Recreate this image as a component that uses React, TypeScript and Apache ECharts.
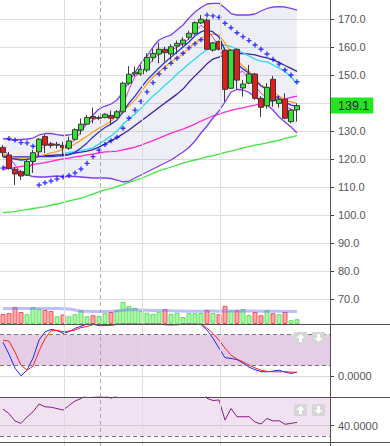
import React, { useEffect, useRef } from "react";
import * as echarts from "echarts";

const categories = Array.from({ length: 55 }, (_, i) => String(i + 1));

const opens = [124.2, 121.5, 116.4, 115.5, 114.3, 119.2, 122.6, 128.1, 125.4, 125.0, 124.9, 123.9, 127.1, 130.4, 132.5, 135.2, 134.6, 134.9, 135.6, 134.9, 136.9, 147.1, 150.4, 150.4, 151.8, 156.3, 157.5, 159.2, 157.5, 160.4, 161.1, 163.5, 164.9, 168.6, 169.6, 158.9, 162.0, 158.9, 145.3, 159.2, 145.4, 147.1, 150.4, 141.7, 139.0, 148.5, 139.9, 141.4, 133.4, 137.6];
const closes = [122.3, 116.7, 114.7, 114.0, 119.2, 122.3, 127.1, 125.0, 124.9, 125.3, 124.1, 126.5, 130.5, 132.5, 134.9, 134.6, 134.8, 136.0, 134.6, 136.9, 147.1, 150.3, 151.0, 152.1, 156.3, 157.7, 159.2, 158.0, 160.1, 161.3, 162.5, 164.9, 168.7, 169.9, 159.2, 161.5, 159.2, 144.9, 158.9, 148.2, 146.8, 150.4, 141.7, 138.5, 145.6, 140.9, 141.4, 134.6, 137.5, 139.1];
const highs = [125.0, 122.6, 117.2, 116.1, 119.7, 123.3, 127.5, 128.8, 126.1, 126.2, 126.2, 128.0, 131.0, 134.5, 135.8, 138.4, 135.5, 136.4, 137.3, 137.5, 147.6, 153.2, 153.0, 153.6, 157.8, 159.5, 161.5, 160.1, 161.0, 162.3, 163.5, 165.8, 169.2, 171.4, 170.2, 161.8, 162.3, 159.5, 159.3, 159.5, 148.2, 153.6, 150.8, 142.5, 147.1, 149.7, 142.6, 143.5, 137.8, 139.9];
const lows = [120.8, 116.3, 110.8, 112.6, 114.0, 115.1, 120.8, 122.2, 124.0, 123.8, 120.9, 123.3, 126.6, 128.8, 132.3, 132.8, 133.9, 134.6, 132.2, 134.5, 136.4, 146.5, 149.5, 149.8, 151.0, 154.8, 154.2, 154.8, 155.5, 157.5, 160.2, 162.5, 164.3, 168.2, 159.0, 158.4, 158.8, 140.5, 145.0, 144.9, 142.3, 146.8, 141.1, 135.1, 138.0, 138.7, 138.4, 134.3, 132.8, 133.4];

const volumes = [10, 10.8, 17, 12, 9.8, 16.8, 14.8, 14, 13, 7.7, 9.5, 7.7, 9.8, 13.8, 7.7, 8.8, 8, 10.8, 12, 13.8, 22, 18, 16, 13, 11.2, 10.2, 12.2, 14.8, 10.2, 11.2, 7, 10.8, 10.8, 11, 14, 11, 9.8, 18.2, 13.4, 13.7, 14.8, 9, 12, 8.8, 13.8, 10.8, 9.8, 12, 3.8, 4.8];
const volumeMA = [15.5, 15.5, 15.5, 15.5, 15.6, 15.6, 15.5, 15.5, 15.5, 15.4, 15.2, 15.0, 14.0, 12.8, 12.7, 12.6, 12.5, 12.6, 12.8, 13.2, 13.8, 14.2, 14.2, 14.0, 13.8, 13.6, 13.4, 13.4, 13.2, 13.0, 12.9, 12.8, 12.8, 12.8, 12.9, 12.9, 12.8, 13.0, 13.1, 13.1, 13.2, 13.0, 13.0, 12.8, 12.8, 12.8, 12.7, 12.6, 12.4, 12.4];

const bbUpper = [127.37, 127.01, 126.83, 127.01, 127.19, 127.54, 128.62, 129.15, 129.15, 128.79, 128.44, 128.62, 129.33, 130.76, 133.25, 135.75, 137.89, 138.96, 139.68, 141.1, 143.96, 147.88, 150.91, 154.3, 156.8, 160.01, 162.51, 163.58, 164.29, 166.08, 167.86, 170.36, 172.5, 174.1, 175.35, 175.6, 175.6, 173.9, 171.96, 171.43, 171.43, 171.43, 171.78, 172.85, 173.75, 174.28, 174.39, 174.28, 173.75, 173.21];
const bbLower = [117.2, 116.84, 116.13, 115.06, 114.35, 113.81, 113.63, 113.63, 113.81, 113.99, 113.81, 113.81, 113.81, 113.63, 113.45, 113.28, 113.28, 113.28, 113.1, 112.56, 111.85, 112.2, 113.28, 114.35, 115.42, 116.49, 117.56, 118.63, 119.7, 121.12, 122.55, 124.16, 126.48, 129.33, 131.83, 134.68, 137.18, 140.39, 143.96, 144.85, 144.67, 143.78, 142.17, 140.57, 139.32, 137.54, 135.04, 133.25, 131.47, 129.33];
const bbMiddle = [121.1, 120.9, 120.8, 120.8, 120.8, 120.9, 121.1, 121.3, 121.3, 121.5, 121.6, 121.8, 122.2, 122.5, 122.9, 123.4, 124.3, 125.4, 126.5, 127.7, 129.0, 130.4, 132.0, 133.6, 135.2, 136.8, 138.4, 140.0, 141.6, 143.2, 145.0, 147.5, 149.7, 151.8, 154.0, 155.7, 156.4, 157.2, 157.5, 157.7, 157.7, 157.5, 157.2, 156.6, 156.1, 155.4, 154.5, 153.4, 152.4, 151.3];
const maBlue = [120.8, 120.4, 120.05, 119.7, 119.9, 120.4, 120.9, 120.9, 120.9, 121.1, 121.3, 121.5, 122.5, 124.0, 125.8, 127.9, 129.7, 131.3, 132.5, 134.0, 136.8, 140.0, 142.5, 145.4, 148.2, 150.4, 152.5, 154.6, 156.4, 158.2, 160.0, 161.8, 164.0, 165.4, 166.1, 165.4, 163.6, 158.9, 156.1, 154.0, 152.2, 150.7, 148.2, 146.1, 145.0, 143.2, 141.5, 140.4, 139.3, 138.8];
const maOrange = [121.8, 121.1, 120.4, 120.1, 120.1, 120.4, 121.1, 121.6, 122.2, 122.7, 123.6, 124.3, 125.4, 126.8, 128.2, 129.7, 131.1, 132.2, 133.6, 135.4, 137.5, 139.0, 141.1, 144.0, 146.8, 149.3, 151.1, 152.9, 154.7, 156.1, 157.5, 159.7, 161.4, 162.9, 164.3, 164.6, 164.3, 161.4, 158.2, 155.4, 153.2, 151.4, 149.0, 146.4, 145.4, 144.0, 142.5, 141.1, 140.4, 139.9];
const maCyan = [null, null, null, null, null, null, null, null, null, null, 122.0, 122.4, 122.7, 123.1, 123.4, 124.1, 125.4, 126.8, 128.3, 130.0, 132.5, 134.3, 136.1, 138.2, 140.4, 142.5, 144.3, 146.4, 148.2, 150.4, 152.2, 154.0, 155.7, 157.5, 159.1, 160.0, 160.5, 160.7, 160.2, 159.1, 157.9, 156.8, 155.7, 155.0, 154.7, 153.6, 152.5, 151.3, 149.3, 146.8];
const maMagenta = [116.3, 116.7, 117.0, 117.4, 117.7, 118.1, 118.4, 118.8, 119.2, 119.7, 120.1, 120.4, 120.8, 121.1, 121.5, 121.8, 122.2, 122.6, 122.7, 122.9, 123.3, 123.8, 124.3, 125.0, 125.8, 126.6, 127.5, 128.4, 129.3, 130.0, 130.7, 131.6, 132.5, 133.6, 134.5, 135.4, 136.1, 136.8, 137.4, 137.9, 138.3, 138.8, 139.3, 139.9, 140.4, 140.7, 141.1, 141.5, 142.0, 142.5];
const maGreen = [100.8, 101.1, 101.3, 101.7, 102.0, 102.4, 102.7, 103.1, 103.6, 104.0, 104.5, 105.1, 105.6, 106.1, 106.8, 107.6, 108.3, 109.0, 109.5, 110.2, 110.9, 111.7, 112.4, 113.1, 114.0, 114.9, 115.8, 116.5, 117.2, 117.9, 118.6, 119.2, 119.7, 120.2, 120.8, 121.3, 121.8, 122.4, 122.9, 123.4, 124.0, 124.5, 125.0, 125.4, 125.8, 126.3, 126.8, 127.4, 127.9, 128.4];
const maPink = [124.0, 121.0, 117.9, 115.1, 116.0, 118.5, 122.9, 124.8, 125.7, 125.1, 124.8, 125.3, 127.0, 129.8, 132.6, 134.0, 134.8, 135.1, 135.1, 135.8, 139.5, 144.8, 149.5, 151.1, 153.1, 155.4, 157.7, 158.3, 159.1, 159.8, 161.3, 162.9, 165.4, 167.8, 165.9, 163.5, 160.0, 155.2, 154.3, 150.7, 151.3, 148.5, 146.3, 143.5, 141.9, 141.7, 142.6, 139.0, 137.8, 137.1];
const sar = [116.8, 127.4, 126.8, 125.9, 125.8, 124.6, 110.8, 111.6, 112.2, 112.9, 113.6, 114.2, 115.1, 116.5, 118.5, 120.9, 123.2, 125.2, 126.6, 127.8, 131.0, 134.6, 137.5, 140.6, 144.0, 147.3, 150.4, 152.4, 154.2, 156.0, 157.8, 159.7, 161.2, 162.6, 171.4, 171.1, 170.6, 168.5, 166.9, 165.1, 163.7, 162.3, 160.7, 159.2, 157.5, 155.6, 153.9, 151.8, 150.0, 147.6];

const stochK = [65, 42, 15.4, 0.5, 11.5, 34.5, 69, 85, 89.6, 87.5, 82, 85, 91.5, 96, 99.8, 100, 97, 97.5, 98, 100, 100, 100, 100, 99.5, 100, 100, 100, 98.5, 98.5, 99, 100, 100, 100, 99, 88.3, 72.9, 53.7, 35.5, 34.0, 31.7, 25.0, 17.3, 12.5, 8.6, 8.3, 9.6, 11.5, 7.7, 5.2, 7.7];
const stochD = [69, 67, 46, 21, 11.5, 19.2, 48, 72, 87, 87.5, 85.4, 86.4, 88.3, 93.1, 95.0, 99, 98.5, 97, 97.5, 99, 100, 100, 100, 100, 100, 100, 100, 99, 98.5, 98.5, 99.5, 100, 100, 100, 92, 82, 69, 53.7, 40.3, 32.6, 27.4, 21.1, 15.7, 11.5, 9.0, 8.3, 8.3, 8.6, 7.7, 7.1];
const rsi = [56.2, 51.8, 44.6, 42.3, 48.4, 53.6, 61.1, 58.4, 58.0, 56.7, 55.2, 59.6, 64.0, 66.4, 70, 69, 68.5, 69, 66.8, 69, 76, 78, 78, 79, 81, 81, 82, 80, 81, 82, 82, 83, 85, 85, 66.6, 64.5, 65.0, 45.5, 56.7, 48.7, 48.7, 48.8, 43.6, 41.7, 47.0, 44.6, 44.9, 41.4, 42.3, 43.3];

const lastPrice = 139.1;
const hiddenPriceLabel = 140;
const verticalGridAt = [10.22, 23.28, 36.28];
const cursorAt = 16.22;

const FONT = "'Liberation Sans', Arial, sans-serif";

function upArrow(cx: number, cy: number) {
  return [[cx, cy - 4], [cx + 4, cy], [cx + 1.5, cy], [cx + 1.5, cy + 4], [cx - 1.5, cy + 4], [cx - 1.5, cy], [cx - 4, cy]];
}
function downArrow(cx: number, cy: number) {
  return [[cx, cy + 4], [cx + 4, cy], [cx + 1.5, cy], [cx + 1.5, cy - 4], [cx - 1.5, cy - 4], [cx - 1.5, cy], [cx - 4, cy]];
}
function buttons(y: number) {
  return [
    { type: "rect", shape: { x: 294, y, width: 13, height: 12 }, style: { fill: "#d6d6d6" }, z: 100 },
    { type: "polygon", shape: { points: upArrow(300.5, y + 6) }, style: { fill: "#ffffff" }, z: 101 },
    { type: "rect", shape: { x: 312, y, width: 13, height: 12 }, style: { fill: "#d6d6d6" }, z: 100 },
    { type: "polygon", shape: { points: downArrow(318.5, y + 6) }, style: { fill: "#ffffff" }, z: 101 },
  ];
}

export default function App() {
  const ref = useRef<HTMLDivElement>(null);
  useEffect(() => {
    if (!ref.current) return;
    const chart = echarts.init(ref.current, undefined, { renderer: "svg" });
    const candleData = opens.map((o, i) => [o, closes[i], lows[i], highs[i]]);
    const volData = volumes.map((v, i) => {
      const up = closes[i] >= opens[i];
      return {
        value: v,
        itemStyle: up
          ? { color: "rgba(120,245,120,0.65)", borderColor: "#5ee05e", borderWidth: 1 }
          : { color: "rgba(255,130,130,0.7)", borderColor: "#ee5555", borderWidth: 1 },
      };
    });
    const bandWidth = bbUpper.map((u, i) => +(u - bbLower[i]).toFixed(2));
    const line = (name: string, data: any[], color: string, width = 1.3, z = 2) => ({
      name, type: "line", data, xAxisIndex: 0, yAxisIndex: 0, symbol: "none", silent: true,
      lineStyle: { color, width }, z, animation: false,
    });
    const catX = (gridIndex: number) => ({
      type: "category", gridIndex, data: categories, boundaryGap: true,
      axisLine: { show: false }, axisTick: { show: false }, axisLabel: { show: false }, splitLine: { show: false },
    });
    const option: any = {
      animation: false,
      backgroundColor: "#ffffff",
      textStyle: { fontFamily: FONT },
      grid: [
        { left: 0, top: 0, width: 330, height: 324 },
        { left: 0, top: 284, width: 330, height: 40 },
        { left: 0, top: 324, width: 330, height: 73 },
        { left: 0, top: 397, width: 330, height: 45 },
        { left: 0, top: 0, width: 330, height: 446 },
      ],
      xAxis: [
        catX(0), catX(1), catX(2), catX(3),
        { type: "value", gridIndex: 4, min: -0.5, max: 54.5, show: false },
      ],
      yAxis: [
        {
          type: "value", gridIndex: 0, position: "right", min: 61.19, max: 176.78, splitNumber: 12,
          axisLine: { show: false },
          axisTick: { show: true, length: 4, lineStyle: { color: "#444" } },
          axisLabel: {
            color: "#555", fontSize: 11, margin: 8, fontFamily: FONT, showMinLabel: false, showMaxLabel: false,
            formatter: (v: number) => (Math.abs(v - hiddenPriceLabel) < 1e-6 ? "" : v.toFixed(1)),
          },
          splitLine: { show: true, showMinLine: false, showMaxLine: false, lineStyle: { color: "#dddddd", width: 1 } },
        },
        { type: "value", gridIndex: 1, min: 0, max: 40, show: false },
        {
          type: "value", gridIndex: 2, position: "right", min: -40, max: 100, interval: 20,
          axisLine: { show: false },
          axisTick: { show: true, length: 4, lineStyle: { color: "#444" }, customValues: [0] },
          axisLabel: { color: "#555", fontSize: 11, margin: 8, fontFamily: FONT, customValues: [0], formatter: (v: number) => (v === 0 ? "0.0000" : "") },
          splitLine: { show: false },
        },
        {
          type: "value", gridIndex: 3, position: "right", min: 24.2, max: 67.9,
          axisLine: { show: false },
          axisTick: { show: true, length: 4, lineStyle: { color: "#444" }, customValues: [40] },
          axisLabel: { color: "#555", fontSize: 11, margin: 8, fontFamily: FONT, customValues: [40], formatter: (v: number) => (v === 40 ? "40.0000" : "") },
          splitLine: { show: false },
        },
        { type: "value", gridIndex: 4, min: 0, max: 1, show: false },
      ],
      series: [
        { name: "bbBase", type: "line", stack: "bb", data: bbLower, symbol: "none", silent: true, lineStyle: { opacity: 0 }, z: 1 },
        { name: "bbFill", type: "line", stack: "bb", data: bandWidth, symbol: "none", silent: true, lineStyle: { opacity: 0 }, areaStyle: { color: "rgba(110,110,190,0.17)" }, z: 1 },
        {
          name: "grid", type: "line", xAxisIndex: 4, yAxisIndex: 4, data: [], symbol: "none", silent: true, z: 1,
          markLine: {
            silent: true, symbol: ["none", "none"], label: { show: false },
            lineStyle: { color: "#dddddd", width: 1, type: "solid" },
            data: [
              ...verticalGridAt.map((x) => ({ xAxis: x })),
              { xAxis: cursorAt, lineStyle: { color: "#a8a8a8", type: [4, 3], width: 1 } },
            ],
          },
        },
        line("MA200", maGreen, "#3fe83f"),
        line("MA50", maMagenta, "#ff2bd6"),
        line("BBmid", bbMiddle, "#3b22a6"),
        line("MAcyan", maCyan, "#25dcf0"),
        line("MAorange", maOrange, "#ffa11c"),
        line("EMAblue", maBlue, "#2a32e0"),
        line("MApink", maPink, "#e53acb", 1),
        line("BBupper", bbUpper, "#7b3ef0", 1.3),
        line("BBlower", bbLower, "#7b3ef0", 1.3),
        {
          name: "price", type: "candlestick", xAxisIndex: 0, yAxisIndex: 0, data: candleData, barWidth: 5, z: 3,
          itemStyle: { color: "#2ee62e", color0: "#e81b1b", borderColor: "#3a3a3a", borderColor0: "#3a3a3a", borderWidth: 1 },
          markLine: {
            silent: true, symbol: ["none", "none"],
            lineStyle: { color: "rgba(0,0,0,0)", width: 1, type: "solid" },
            label: {
              show: true, position: "end", distance: 1, formatter: lastPrice.toFixed(1),
              backgroundColor: "#1de91d", color: "#222222", opacity: 1, fontSize: 12.5, fontFamily: FONT, padding: [2, 4, 1, 7],
            },
            emphasis: { disabled: true },
            data: [{ yAxis: lastPrice }],
          },
        },
        {
          name: "SAR", type: "scatter", xAxisIndex: 0, yAxisIndex: 0, data: sar, z: 4, silent: true,
          symbol: "path://M1.8,0H3.2V1.8H5V3.2H3.2V5H1.8V3.2H0V1.8H1.8Z", symbolSize: 5,
          itemStyle: { color: "#0a0af5" },
        },
        { name: "Volume", type: "bar", xAxisIndex: 1, yAxisIndex: 1, data: volData, barWidth: 5, z: 2, silent: true },
        { name: "VolMA", type: "line", xAxisIndex: 1, yAxisIndex: 1, data: volumeMA, symbol: "none", silent: true, lineStyle: { color: "rgba(110,110,255,0.45)", width: 3 }, z: 3 },
        {
          name: "%K", type: "line", xAxisIndex: 2, yAxisIndex: 2, data: stochK, symbol: "none", silent: true, lineStyle: { color: "#2222ff", width: 1 }, z: 3,
          markArea: { silent: true, itemStyle: { color: "rgba(190,130,190,0.4)" }, data: [[{ yAxis: 20 }, { yAxis: 80 }]] },
          markLine: {
            silent: true, symbol: ["none", "none"], label: { show: false },
            lineStyle: { color: "#777", type: [4, 3], width: 1 },
            data: [{ yAxis: 20 }, { yAxis: 80 }, { yAxis: 0, lineStyle: { color: "#d8d8d8", type: "solid" } }],
          },
        },
        { name: "%D", type: "line", xAxisIndex: 2, yAxisIndex: 2, data: stochD, symbol: "none", silent: true, lineStyle: { color: "#ff2020", width: 1 }, z: 3 },
        {
          name: "RSI", type: "line", xAxisIndex: 3, yAxisIndex: 3, data: rsi, symbol: "none", silent: true, lineStyle: { color: "#8a1a8a", width: 1 }, z: 3,
          markArea: { silent: true, itemStyle: { color: "rgba(190,130,190,0.23)" }, data: [[{ yAxis: 30 }, { yAxis: 70 }]] },
          markLine: {
            silent: true, symbol: ["none", "none"], label: { show: false },
            lineStyle: { color: "#777", type: [4, 3], width: 1 },
            data: [{ yAxis: 30 }, { yAxis: 40, lineStyle: { color: "#cfcfcf", type: "solid" } }],
          },
        },
      ],
      graphic: [
        { type: "line", shape: { x1: 0, y1: 324.5, x2: 390, y2: 324.5 }, style: { stroke: "#505050", lineWidth: 1 }, z: 100 },
        { type: "line", shape: { x1: 0, y1: 397.5, x2: 390, y2: 397.5 }, style: { stroke: "#505050", lineWidth: 1 }, z: 100 },
        { type: "line", shape: { x1: 0, y1: 442.5, x2: 390, y2: 442.5 }, style: { stroke: "#505050", lineWidth: 1 }, z: 100 },
        { type: "line", shape: { x1: 330.5, y1: 0, x2: 330.5, y2: 446 }, style: { stroke: "#505050", lineWidth: 1 }, z: 100 },
        ...buttons(332),
        ...buttons(404),
      ],
    };
    chart.setOption(option);
    return () => chart.dispose();
  }, []);
  return <div ref={ref} style={{ position: "fixed", left: 0, top: 0, width: 390, height: 446 }} />;
}
